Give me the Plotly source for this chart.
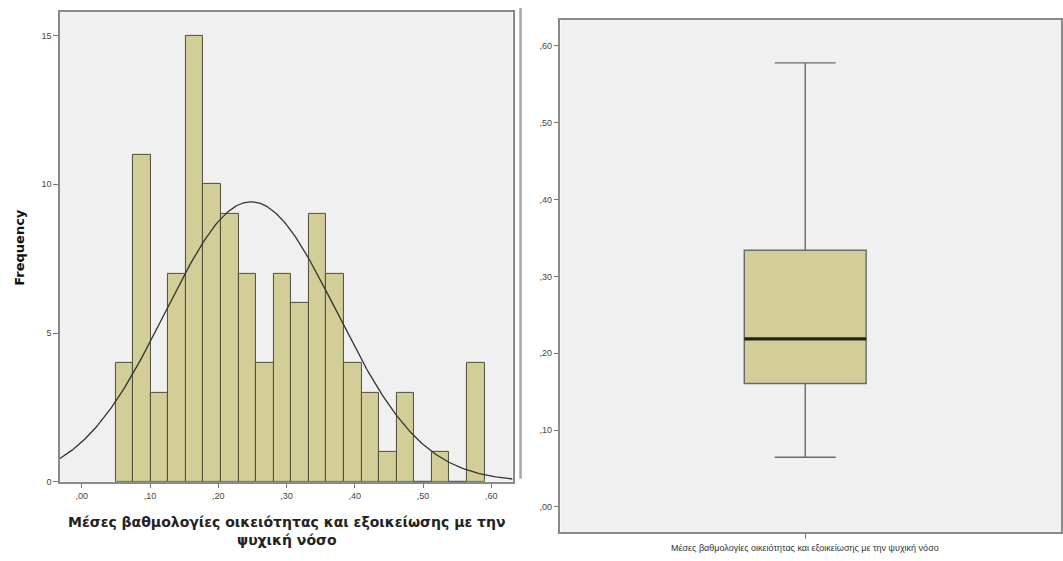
import numpy as np
import plotly.graph_objects as go

# ---------------- data ----------------
bin_start = 0.0493
bin_width = 0.02575
counts = [4, 11, 3, 7, 15, 10, 9, 7, 4, 7, 6, 9, 7, 4, 3, 1, 3, 0, 1, 0, 4]
n_total = sum(counts)
fit_mean = 0.248
fit_sd = 0.1255

hist_xticks = [0.0, 0.1, 0.2, 0.3, 0.4, 0.5, 0.6]
hist_xlabels = [",00", ",10", ",20", ",30", ",40", ",50", ",60"]
hist_yticks = [0, 5, 10, 15]
hist_ylabels = ["0", "5", "10", "15"]

box_lower = 0.0645
box_q1 = 0.1605
box_median = 0.2186
box_q3 = 0.334
box_upper = 0.578
box_yticks = [0.0, 0.1, 0.2, 0.3, 0.4, 0.5, 0.6]
box_ylabels = [",00", ",10", ",20", ",30", ",40", ",50", ",60"]

x_title = "Μέσες βαθμολογίες οικειότητας και εξοικείωσης με την<br>ψυχική νόσο"
box_xlabel = "Μέσες βαθμολογίες οικειότητας και εξοικείωσης με την ψυχική νόσο"

# ---------------- derived ----------------
centers = [bin_start + bin_width * (i + 0.5) for i in range(len(counts))]
x_min, x_max = -0.032, 0.631
xc = np.linspace(x_min, x_max, 300)
yc = n_total * bin_width / (fit_sd * np.sqrt(2 * np.pi)) * np.exp(-0.5 * ((xc - fit_mean) / fit_sd) ** 2)

BAR = "#D3CE98"
FONT = "Liberation Sans, Arial, sans-serif"
BOLD_FONT = "DejaVu Sans, Liberation Sans, sans-serif"

fig = go.Figure()

fig.add_trace(go.Bar(
    x=centers, y=counts, width=bin_width,
    marker=dict(color=BAR, line=dict(color="#4f4f3a", width=1)),
    xaxis="x", yaxis="y", showlegend=False, hoverinfo="skip",
))
fig.add_trace(go.Scatter(
    x=xc, y=yc, mode="lines", line=dict(color="#333333", width=1.3),
    xaxis="x", yaxis="y", showlegend=False, hoverinfo="skip",
))

box_w = 0.498
fig.add_trace(go.Box(
    x=[0], q1=[box_q1], median=[box_median], q3=[box_q3],
    lowerfence=[box_lower], upperfence=[box_upper],
    width=box_w, whiskerwidth=0.5,
    fillcolor=BAR, line=dict(color="#6a6a6a", width=1.4),
    xaxis="x2", yaxis="y2", showlegend=False, hoverinfo="skip",
    boxpoints=False,
))
fig.add_trace(go.Scatter(
    x=[-box_w / 2, box_w / 2], y=[box_median, box_median], mode="lines",
    line=dict(color="#222218", width=3.2),
    xaxis="x2", yaxis="y2", showlegend=False, hoverinfo="skip",
))

axis_common = dict(showgrid=False, zeroline=False, showline=True, mirror=True,
                   linecolor="#8a8a8a", linewidth=1.5, ticks="outside",
                   ticklen=5, tickcolor="#777777",
                   tickfont=dict(family=FONT, size=9, color="#444444"))

fig.update_layout(
    width=1063, height=561,
    margin=dict(l=0, r=0, t=0, b=0),
    paper_bgcolor="white", plot_bgcolor="#F0F0F0",
    bargap=0,
    xaxis=dict(domain=[60 / 1063, 513 / 1063], range=[x_min, x_max],
               tickvals=hist_xticks, ticktext=hist_xlabels, anchor="y", **axis_common),
    yaxis=dict(domain=[(561 - 486) / 561, (561 - 12) / 561], range=[0, 15.8],
               tickvals=hist_yticks, ticktext=hist_ylabels, anchor="x", **axis_common),
    xaxis2=dict(domain=[561 / 1063, 1062 / 1063], range=[-1.0, 1.045],
                tickvals=[0], ticktext=[""], anchor="y2", **axis_common),
    yaxis2=dict(domain=[24 / 561, (561 - 20) / 561], range=[-0.033, 0.634],
                tickvals=box_yticks, ticktext=box_ylabels, anchor="x2", **axis_common),
    shapes=[dict(type="line", xref="paper", yref="paper",
                 x0=521 / 1063, x1=521 / 1063, y0=(561 - 483) / 561, y1=(561 - 8) / 561,
                 line=dict(color="#a8a8a8", width=2.5))],
    annotations=[
        dict(text="<b>Frequency</b>", xref="paper", yref="paper",
             x=20 / 1063, y=(561 - 249) / 561, textangle=-90, showarrow=False,
             xanchor="center", yanchor="middle",
             font=dict(family=BOLD_FONT, size=13, color="#111111")),
        dict(text="<b>" + x_title + "</b>", xref="paper", yref="paper",
             x=287 / 1063, y=(561 - 536) / 561, showarrow=False, align="center",
             xanchor="center", yanchor="middle",
             font=dict(family=BOLD_FONT, size=14, color="#222222")),
        dict(text=box_xlabel, xref="paper", yref="paper",
             x=806 / 1063, y=(561 - 553) / 561, showarrow=False,
             xanchor="center", yanchor="middle",
             font=dict(family=FONT, size=9, color="#333333")),
    ],
)

fig.write_html("out.html")
